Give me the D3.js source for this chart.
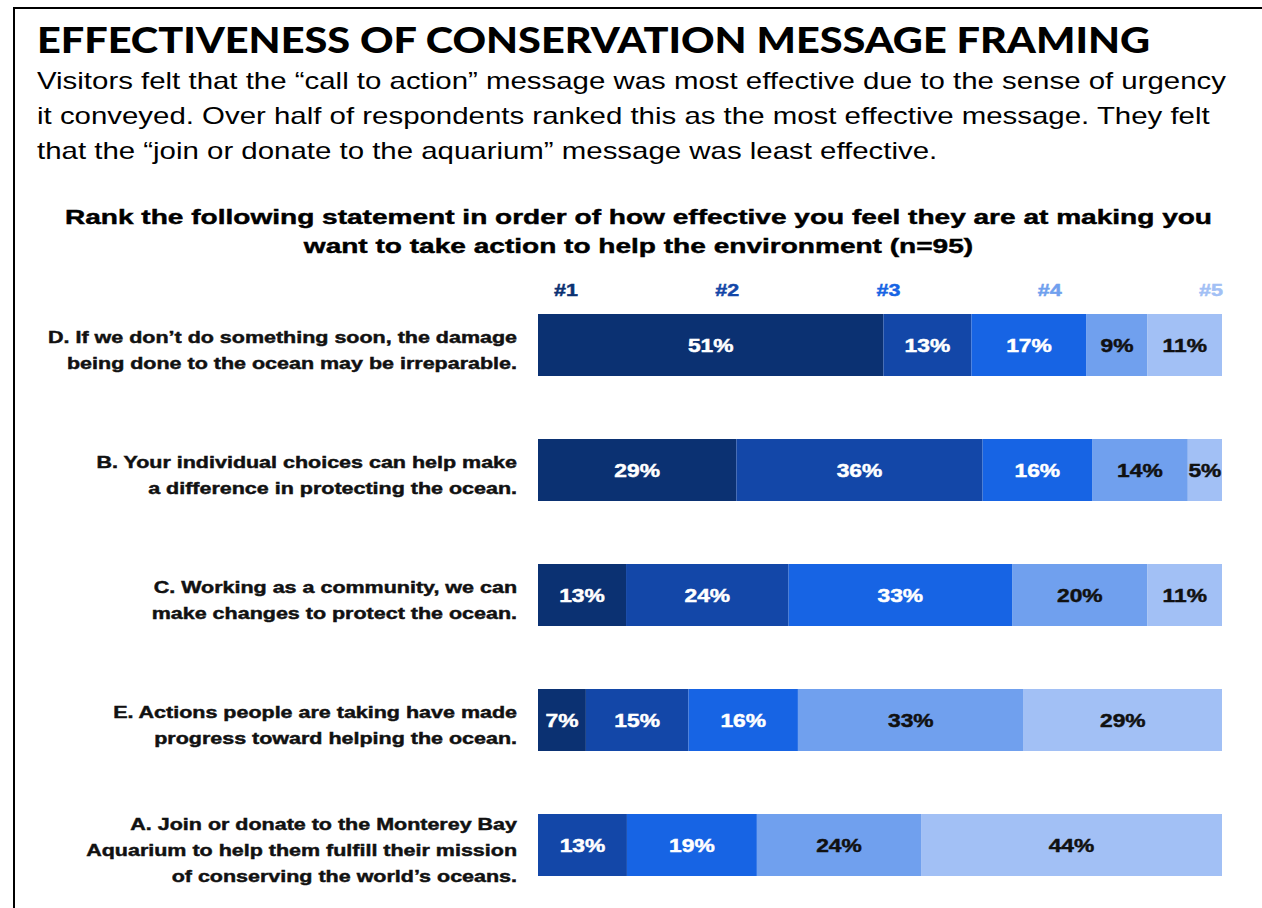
<!DOCTYPE html>
<html>
<head>
<meta charset="utf-8">
<script src="https://cdn.jsdelivr.net/npm/d3@7"></script>
<style>
  html, body { margin: 0; padding: 0; background: #fff; }
  svg { display: block; }
</style>
</head>
<body>
<svg id="chart" width="1262" height="908"></svg>
<script>
// ---- data ----
const statements = [
  ["D. If we don’t do something soon, the damage", "being done to the ocean may be irreparable."],
  ["B. Your individual choices can help make", "a difference in protecting the ocean."],
  ["C. Working as a community, we can", "make changes to protect the ocean."],
  ["E. Actions people are taking have made", "progress toward helping the ocean."],
  ["A. Join or donate to the Monterey Bay", "Aquarium to help them fulfill their mission", "of conserving the world’s oceans."]
];
const statementIds = ["D", "B", "C", "E", "A"];
const rankLabels = ["#1", "#2", "#3", "#4", "#5"];
const rank1 = [51, 29, 13, 7, 0];
const rank2 = [13, 36, 24, 15, 13];
const rank3 = [17, 16, 33, 16, 19];
const rank4 = [9, 14, 20, 33, 24];
const rank5 = [11, 5, 11, 29, 44];

const titleText = "EFFECTIVENESS OF CONSERVATION MESSAGE FRAMING";
const subtitleLines = [
  "Visitors felt that the “call to action” message was most effective due to the sense of urgency",
  "it conveyed. Over half of respondents ranked this as the most effective message. They felt",
  "that the “join or donate to the aquarium” message was least effective."
];
const chartTitleLines = [
  "Rank the following statement in order of how effective you feel they are at making you",
  "want to take action to help the environment (n=95)"
];

// ---- styling ----
const rankColors = ["#0b3172", "#1347a8", "#1764e4", "#70a0ee", "#a2c0f5"];
const labelInk = ["#fff", "#fff", "#fff", "#111", "#111"];
const boldSans = "'Liberation Sans', Arial, sans-serif";
const heavy = 0.45; // extra stroke to give the bold labels more weight

const svg = d3.select("#chart");
svg.append("rect").attr("width", 1262).attr("height", 908).attr("fill", "#fff");

// frame: left and top rules
svg.append("path")
  .attr("d", "M14,908V8H1262")
  .attr("fill", "none").attr("stroke", "#000").attr("stroke-width", 2);

// widen a text horizontally by factor sx, keeping its anchor
function widen(sel, sx) {
  sel.each(function () {
    const w = this.getComputedTextLength();
    d3.select(this).attr("textLength", w * sx).attr("lengthAdjust", "spacingAndGlyphs");
  });
}
function factorFor(node, target) {
  return target / node.getComputedTextLength();
}

// ---- headline ----
const title = svg.append("text")
  .attr("x", 37).attr("y", 53)
  .attr("font-family", "Lato, 'Open Sans', sans-serif")
  .attr("font-weight", 900)
  .attr("font-size", 36)
  .attr("fill", "#000")
  .text(titleText);
widen(title, factorFor(title.node(), 1113));

const sub = svg.append("g").selectAll("text")
  .data(subtitleLines).join("text")
  .attr("x", 37).attr("y", (d, i) => 88.5 + i * 35)
  .attr("font-family", "'Liberation Sans', Arial, sans-serif")
  .attr("font-size", 24)
  .attr("fill", "#000")
  .text(d => d);
const subSx = factorFor(sub.nodes()[0], 1189);
widen(sub, subSx);

const ct = svg.append("g").selectAll("text")
  .data(chartTitleLines).join("text")
  .attr("x", 638.5).attr("y", (d, i) => 224 + i * 29)
  .attr("text-anchor", "middle")
  .attr("font-family", boldSans)
  .attr("font-weight", 700)
  .attr("font-size", 21)
  .attr("fill", "#000")
  .attr("stroke", "#000").attr("stroke-width", heavy)
  .text(d => d);
widen(ct, factorFor(ct.nodes()[0], 1147));

// ---- scales ----
const y = d3.scaleBand()
  .domain(statementIds)
  .range([314, 876])
  .paddingInner(0.504)
  .paddingOuter(0);

const barLeft = 538, barRight = 1222;

const table = statementIds.map((id, i) => ({
  id,
  "#1": rank1[i], "#2": rank2[i], "#3": rank3[i], "#4": rank4[i], "#5": rank5[i]
}));
const series = d3.stack().keys(rankLabels)(table);
const totals = table.map(r => d3.sum(rankLabels, k => r[k]));
// every bar spans the full width: scale each row by its own total
const xRow = statementIds.map((id, i) =>
  d3.scaleLinear().domain([0, totals[i]]).range([barLeft, barRight]));

// ---- row labels ----
const labelG = svg.append("g");
const rowLabels = labelG.selectAll("g")
  .data(statements).join("g")
  .attr("transform", (d, i) => {
    const c = y(statementIds[i]) + y.bandwidth() / 2;
    const top = c + 5 - (d.length - 1) * 26 / 2;
    return `translate(517,${top})`;
  });
const rowText = rowLabels.selectAll("text")
  .data(d => d).join("text")
  .attr("x", 0).attr("y", (d, j) => j * 26 + 6)
  .attr("text-anchor", "end")
  .attr("font-family", boldSans)
  .attr("font-weight", 700)
  .attr("font-size", 16.5)
  .attr("fill", "#111")
  .attr("stroke", "#111").attr("stroke-width", heavy)
  .text(d => d);
const rowSx = factorFor(rowText.nodes()[0], 469);
widen(rowText, rowSx);

// ---- rank headers ----
const xHead = d3.scalePoint().domain(rankLabels).range([566, 1211]);
const heads = svg.append("g").selectAll("text")
  .data(rankLabels).join("text")
  .attr("x", d => xHead(d)).attr("y", 296)
  .attr("text-anchor", "middle")
  .attr("font-family", boldSans)
  .attr("font-weight", 700)
  .attr("font-size", 16.5)
  .attr("fill", (d, i) => rankColors[i])
  .attr("stroke", (d, i) => rankColors[i]).attr("stroke-width", heavy)
  .text(d => d);
widen(heads, rowSx);

// ---- stacked bars ----
const layers = svg.append("g").selectAll("g")
  .data(series).join("g")
  .attr("fill", (s, k) => rankColors[k]);

layers.selectAll("rect")
  .data(s => s.map((seg, i) => ({ seg, i, key: s.key })))
  .join("rect")
  .attr("x", d => xRow[d.i](d.seg[0]))
  .attr("y", d => y(statementIds[d.i]))
  .attr("width", d => Math.max(0, xRow[d.i](d.seg[1]) - xRow[d.i](d.seg[0])))
  .attr("height", y.bandwidth());

// value labels
const valueText = svg.append("g").selectAll("g")
  .data(series).join("g")
  .attr("fill", (s, k) => labelInk[k])
  .attr("stroke", (s, k) => labelInk[k])
  .attr("stroke-width", heavy)
  .selectAll("text")
  .data(s => s.map((seg, i) => ({ seg, i, v: seg.data[s.key] })).filter(d => d.v > 0))
  .join("text")
  .attr("x", d => xRow[d.i]((d.seg[0] + d.seg[1]) / 2))
  .attr("y", d => y(statementIds[d.i]) + y.bandwidth() / 2 + 7)
  .attr("text-anchor", "middle")
  .attr("font-family", boldSans)
  .attr("font-weight", 700)
  .attr("font-size", 17.5)
  .text(d => d.v + "%");
widen(valueText, rowSx);
</script>
</body>
</html>
